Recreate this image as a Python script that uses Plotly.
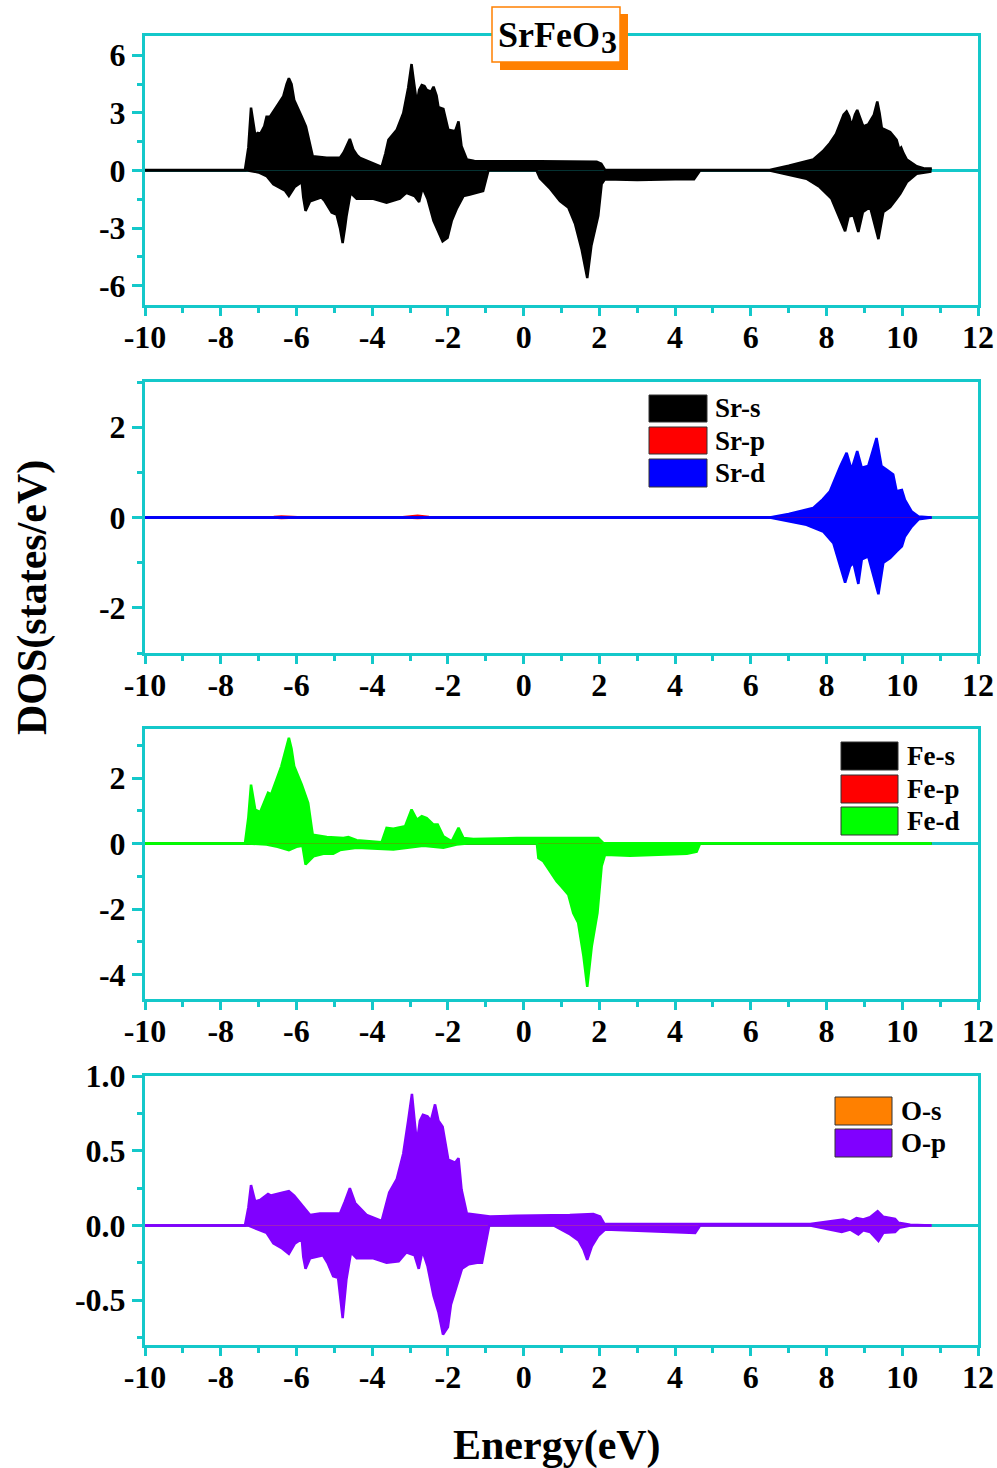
import plotly.graph_objects as go

# ---------------- data: energies (eV) and DOS (states/eV) ----------------
# Total DOS, spin up / spin down
TOT_UP_E = [-10, -7.36, -7.27, -7.2, -7.09, -7.02, -6.96, -6.85, -6.79, -6.70, -6.5, -6.35, -6.26, -6.20, -6.13,
            -6.06, -5.86, -5.75, -5.69, -5.60, -5.57, -5.2, -4.85, -4.75, -4.67, -4.59, -4.5, -4.4, -4.32, -4.0,
            -3.75, -3.65, -3.57, -3.35, -3.18, -3.05, -2.96, -2.89, -2.82, -2.76, -2.69, -2.62, -2.56, -2.45,
            -2.38, -2.30, -2.25, -2.12, -1.99, -1.81, -1.72, -1.64, -1.5, -1.3, -0.89, 0.43, 1.0, 1.93, 2.05,
            2.15, 4.66, 6.5, 7.0, 7.65, 7.9, 8.09, 8.25, 8.36, 8.45, 8.53, 8.6, 8.66, 8.75, 8.81, 8.9, 8.97,
            9.1, 9.25, 9.34, 9.4, 9.46, 9.68, 9.85, 9.92, 9.97, 10.03, 10.12, 10.38, 10.6, 10.78]
TOT_UP = [0.03, 0.03, 1.2, 3.27, 1.86, 1.95, 1.9, 2.3, 2.8, 2.8, 3.4, 3.85, 4.5, 4.8, 4.5,
          3.67, 2.8, 2.3, 1.78, 0.9, 0.74, 0.66, 0.66, 0.95, 1.26, 1.64, 1.1, 0.8, 0.66, 0.4,
          0.19, 0.9, 1.6, 2.12, 2.98, 4.3, 5.54, 4.5, 3.5, 4.2, 4.45, 4.4, 4.2, 4.1,
          4.36, 3.9, 3.3, 3.2, 2.12, 2.04, 2.55, 1.26, 0.57, 0.5, 0.48, 0.48, 0.46, 0.45, 0.35,
          0.03, 0.03, 0.03, 0.25, 0.57, 1.0, 1.43, 1.9, 2.47, 2.9, 3.07, 2.8, 2.3, 2.9, 3.15, 2.7, 2.3,
          2.4, 2.9, 3.59, 3.0, 2.2, 2.0, 1.6, 1.1, 1.2, 0.9, 0.57, 0.22, 0.1, 0.1]

TOT_DN_E = [-10, -7.28, -7.0, -6.79, -6.61, -6.44, -6.3, -6.2, -6.04, -5.86, -5.82, -5.76, -5.64, -5.34, -5.25,
            -5.07, -4.94, -4.85, -4.78, -4.72, -4.68, -4.57, -4.41, -3.97, -3.62, -3.27, -3.1, -2.88, -2.76,
            -2.67, -2.54, -2.38, -2.25, -2.14, -2.01, -1.9, -1.77, -1.59, -1.42, -1.2, -1.07, -0.93, 0.34,
            0.43, 0.7, 0.96, 1.18, 1.36, 1.53, 1.68, 1.79, 1.97, 2.06, 2.15, 3.0, 4.0, 4.5, 4.66, 6.5, 7.47,
            7.82, 8.13, 8.31, 8.49, 8.58, 8.71, 8.84, 8.96, 9.15, 9.37, 9.5, 9.68, 9.85, 9.95, 10.12, 10.38, 10.77]
TOT_DN = [0, 0, -0.1, -0.29, -0.72, -0.9, -1.05, -1.33, -0.84, -0.6, -1.4, -2.1, -1.6, -1.4, -1.6,
          -2.19, -2.3, -3.0, -3.78, -3.0, -2.4, -1.16, -1.47, -1.47, -1.67, -1.47, -1.16, -1.33, -1.64,
          -0.9, -1.47, -2.62, -3.2, -3.69, -3.5, -2.62, -2.0, -1.33, -1.25, -1.16, -1.07, 0, 0,
          -0.4, -0.95, -1.59, -1.93, -2.79, -4.09, -5.6, -3.9, -2.36, -0.7, -0.45, -0.5, -0.45, -0.45, 0, 0, -0.43,
          -0.86, -1.47, -2.33, -3.16, -2.4, -2.33, -3.2, -2.16, -1.9, -3.57, -2.16, -1.9, -1.47, -1.2, -0.6, -0.17, -0.05]

# Sr partial DOS
SR_S_E = [-10, 10.77]
SR_S_UP = [0, 0]
SR_S_DN = [0, 0]
SR_P_E = [-10, -7.3, -6.6, -6.4, -6.1, -5.6, -3.4, -3.0, -2.8, -2.5, -2.0, 10.77]
SR_P_UP = [0, 0, 0.02, 0.035, 0.02, 0, 0, 0.04, 0.05, 0.02, 0, 0]
SR_P_DN = [0, 0, -0.01, -0.02, -0.01, 0, 0, -0.02, -0.02, -0.01, 0, 0]
SR_D_UP_E = [-10, 6.5, 7.0, 7.65, 7.9, 8.09, 8.36, 8.53, 8.66, 8.81, 8.93, 9.1, 9.32, 9.45, 9.58, 9.76,
             9.85, 9.99, 10.07, 10.25, 10.43, 10.77]
SR_D_UP = [0, 0, 0.08, 0.21, 0.4, 0.58, 1.13, 1.43, 1.06, 1.47, 1.1, 1.14, 1.76, 1.14, 1.06, 0.95,
           0.58, 0.61, 0.39, 0.13, 0.02, 0]
SR_D_DN_E = [-10, 6.5, 7.47, 7.91, 8.18, 8.31, 8.49, 8.62, 8.71, 8.84, 8.93, 9.1, 9.37, 9.5, 9.68, 9.85,
             9.99, 10.07, 10.25, 10.43, 10.77]
SR_D_DN = [0, 0, -0.16, -0.31, -0.57, -0.93, -1.44, -1.08, -1.0, -1.47, -0.93, -0.86, -1.7, -1.0, -0.9, -0.75,
           -0.64, -0.42, -0.2, -0.04, 0]

# Fe partial DOS
FE_S_E = [-10, 10.77]
FE_S_UP = [0, 0]
FE_S_DN = [0, 0]
FE_P_E = [-10, 10.77]
FE_P_UP = [0, 0]
FE_P_DN = [0, 0]
FE_D_UP_E = [-10, -7.36, -7.27, -7.2, -7.09, -6.96, -6.75, -6.67, -6.4, -6.26, -6.2, -6.13, -6.06, -5.86,
             -5.69, -5.6, -5.57, -5.2, -4.76, -4.63, -4.41, -3.75, -3.62, -3.44, -3.13, -2.96, -2.82, -2.69,
             -2.56, -2.38, -2.27, -2.12, -1.9, -1.72, -1.59, -1.33, -0.18, 1.97, 2.1, 10.77]
FE_D_UP = [0, 0, 0.8, 1.8, 1.04, 0.96, 1.55, 1.5, 2.36, 3.0, 3.23, 2.9, 2.36, 1.8,
           1.24, 0.5, 0.27, 0.2, 0.17, 0.2, 0.1, 0.04, 0.48, 0.45, 0.53, 1.04, 0.73, 0.84,
           0.78, 0.58, 0.58, 0.22, 0.07, 0.48, 0.17, 0.14, 0.17, 0.17, 0.02, 0]
FE_D_DN_E = [-10, -7.28, -6.79, -6.5, -6.2, -6.0, -5.84, -5.76, -5.55, -5.29, -5.03, -4.85, -4.41, -3.44,
             -2.65, -2.12, -1.77, -1.5, 0.35, 0.39, 0.52, 0.7, 0.87, 1.0, 1.18, 1.31, 1.44, 1.58, 1.68, 1.8,
             1.95, 2.06, 2.15, 2.81, 3.43, 4.31, 4.57, 4.66, 10.77]
FE_D_DN = [0, 0, -0.03, -0.1, -0.2, -0.1, -0.07, -0.64, -0.39, -0.31, -0.31, -0.2, -0.13, -0.18,
           -0.07, -0.13, -0.03, 0, 0, -0.44, -0.54, -0.85, -1.15, -1.32, -1.56, -2.12, -2.42, -3.44, -4.38, -3.13,
           -2.12, -0.69, -0.34, -0.37, -0.34, -0.31, -0.25, 0, 0]

# O partial DOS
O_S_E = [-10, 10.77]
O_S_UP = [0, 0]
O_S_DN = [0, 0]
O_P_UP_E = [-10, -7.36, -7.27, -7.2, -7.09, -6.96, -6.75, -6.67, -6.35, -6.2, -6.06, -5.86, -5.64, -5.38,
            -4.85, -4.72, -4.59, -4.45, -4.15, -3.75, -3.55, -3.35, -3.18, -3.05, -2.95, -2.88, -2.82, -2.74,
            -2.66, -2.54, -2.45, -2.34, -2.25, -2.14, -1.99, -1.81, -1.72, -1.64, -1.5, -0.89, -0.19, 1.22,
            1.84, 2.02, 2.13, 7.57, 8.09, 8.44, 8.62, 8.79, 8.97, 9.15, 9.35, 9.5, 9.81, 9.9, 10.21, 10.77]
O_P_UP = [0, 0, 0.12, 0.27, 0.16, 0.17, 0.21, 0.2, 0.22, 0.23, 0.2, 0.14, 0.07, 0.08,
          0.08, 0.16, 0.25, 0.15, 0.07, 0.03, 0.22, 0.31, 0.48, 0.7, 0.88, 0.7, 0.55, 0.7,
          0.74, 0.73, 0.7, 0.81, 0.7, 0.66, 0.44, 0.42, 0.45, 0.24, 0.08, 0.06, 0.065, 0.07,
          0.077, 0.06, 0.01, 0.01, 0.03, 0.04, 0.025, 0.05, 0.04, 0.055, 0.095, 0.058, 0.044, 0.018, 0.004, 0]
O_P_DN_E = [-10, -7.28, -6.79, -6.61, -6.4, -6.2, -6.04, -5.86, -5.82, -5.76, -5.64, -5.3, -5.18, -5.03,
            -4.9, -4.78, -4.68, -4.56, -4.41, -3.97, -3.62, -3.3, -3.1, -2.88, -2.77, -2.67, -2.54, -2.38,
            -2.25, -2.13, -2.0, -1.92, -1.75, -1.63, -1.45, -1.23, -1.1, -0.91, 0.79, 1.23, 1.45, 1.58, 1.68,
            1.8, 1.97, 2.15, 4.53, 4.66, 7.57, 8.09, 8.4, 8.62, 8.84, 8.97, 9.15, 9.37, 9.5, 9.81, 9.92,
            10.21, 10.77]
O_P_DN = [0, 0, -0.05, -0.12, -0.15, -0.19, -0.12, -0.09, -0.21, -0.29, -0.22, -0.2, -0.25, -0.34,
          -0.35, -0.62, -0.36, -0.18, -0.22, -0.22, -0.25, -0.24, -0.18, -0.2, -0.29, -0.17, -0.27, -0.47,
          -0.58, -0.73, -0.68, -0.53, -0.39, -0.29, -0.26, -0.25, -0.25, 0, 0, -0.06, -0.1, -0.16, -0.23,
          -0.14, -0.07, -0.027, -0.05, 0, 0, -0.027, -0.044, -0.027, -0.06, -0.033, -0.044, -0.104, -0.049, -0.044,
          -0.016, 0, 0]

# Axis ticks
X_TICKS = [-10, -8, -6, -4, -2, 0, 2, 4, 6, 8, 10, 12]
X_TICK_TEXT = ["-10", "-8", "-6", "-4", "-2", "0", "2", "4", "6", "8", "10", "12"]
Y1_TICKS = [-6, -3, 0, 3, 6]
Y1_TICK_TEXT = ["-6", "-3", "0", "3", "6"]
Y2_TICKS = [-2, 0, 2]
Y2_TICK_TEXT = ["-2", "0", "2"]
Y3_TICKS = [-4, -2, 0, 2]
Y3_TICK_TEXT = ["-4", "-2", "0", "2"]
Y4_TICKS = [-0.5, 0.0, 0.5, 1.0]
Y4_TICK_TEXT = ["-0.5", "0.0", "0.5", "1.0"]

# ---------------- styling ----------------
W, H = 997, 1468
AXC = "#14C8CA"
FONT = "Liberation Serif"
BLACK, RED, BLUE, GREEN, ORANGE, VIOLET = "#000000", "#FF0000", "#0000FF", "#00FF00", "#FF8000", "#8000FF"


def fx(px):
    return px / W


def fy(py):
    return 1 - py / H


fig = go.Figure()


def add_spin(up_e, up, dn_e, dn, color, idx, width=1.5):
    ax = "" if idx == 1 else str(idx)
    for e, v in ((dn_e, dn), (up_e, up)):
        fig.add_trace(go.Scatter(x=e, y=v, mode="lines", fill="tozeroy", fillcolor=color,
                                 line=dict(color=color, width=width),
                                 xaxis="x" + ax, yaxis="y" + ax, showlegend=False, hoverinfo="skip"))


# panel 1: total
add_spin(TOT_UP_E, TOT_UP, TOT_DN_E, TOT_DN, BLACK, 1, 2.5)
# panel 2: Sr
add_spin(SR_S_E, SR_S_UP, SR_S_E, SR_S_DN, BLACK, 2)
add_spin(SR_P_E, SR_P_UP, SR_P_E, SR_P_DN, RED, 2)
add_spin(SR_D_UP_E, SR_D_UP, SR_D_DN_E, SR_D_DN, BLUE, 2, 2.5)
# panel 3: Fe
add_spin(FE_S_E, FE_S_UP, FE_S_E, FE_S_DN, BLACK, 3)
add_spin(FE_P_E, FE_P_UP, FE_P_E, FE_P_DN, RED, 3)
add_spin(FE_D_UP_E, FE_D_UP, FE_D_DN_E, FE_D_DN, GREEN, 3, 2.5)
# panel 4: O
add_spin(O_S_E, O_S_UP, O_S_E, O_S_DN, ORANGE, 4)
add_spin(O_P_UP_E, O_P_UP, O_P_DN_E, O_P_DN, VIOLET, 4, 2.5)

# panel frames in pixels: (top, bottom)
PANELS = [(36, 305), (382, 653), (729, 999), (1076, 1345)]
Y_RANGES = [(-7, 7), (-3, 3), (-4.75, 3.5), (-0.8, 1.0)]
Y_TICKS = [(Y1_TICKS, Y1_TICK_TEXT, 1.5), (Y2_TICKS, Y2_TICK_TEXT, 1),
           (Y3_TICKS, Y3_TICK_TEXT, 1), (Y4_TICKS, Y4_TICK_TEXT, 0.25)]

tick_font = dict(family=FONT, size=32, color="black", weight="bold")
layout = {}
for i, ((top, bot), yr, (tv, tt, minor_step)) in enumerate(zip(PANELS, Y_RANGES, Y_TICKS), start=1):
    sfx = "" if i == 1 else str(i)
    layout["xaxis" + sfx] = dict(
        domain=[fx(145), fx(978)], anchor="y" + sfx, range=[-10, 12], automargin=False,
        tickmode="array", tickvals=X_TICKS, ticktext=X_TICK_TEXT,
        ticks="outside", ticklen=8, tickwidth=3, tickcolor=AXC, ticklabelstandoff=-6,
        minor=dict(tickmode="linear", tick0=-10, dtick=1, ticks="outside", ticklen=5, tickwidth=3, tickcolor=AXC),
        showline=True, linecolor=AXC, linewidth=3, mirror=True,
        showgrid=False, zeroline=False, tickfont=tick_font,
    )
    layout["yaxis" + sfx] = dict(
        domain=[fy(bot), fy(top)], anchor="x" + sfx, range=list(yr), automargin=False,
        tickmode="array", tickvals=tv, ticktext=tt,
        ticks="outside", ticklen=10, tickwidth=3, tickcolor=AXC,
        minor=dict(tickmode="linear", tick0=0, dtick=minor_step, ticks="outside", ticklen=5, tickwidth=3,
                   tickcolor=AXC),
        showline=True, linecolor=AXC, linewidth=3, mirror=True,
        showgrid=False, zeroline=True, zerolinecolor=AXC, zerolinewidth=3, tickfont=tick_font,
    )

shapes = []
annotations = []

# title box with offset shadow
shapes.append(dict(type="rect", xref="paper", yref="paper", x0=fx(500), x1=fx(628), y0=fy(70), y1=fy(14),
                   fillcolor=ORANGE, line=dict(width=0), layer="above"))
shapes.append(dict(type="rect", xref="paper", yref="paper", x0=fx(492), x1=fx(620), y0=fy(62), y1=fy(7),
                   fillcolor="white", line=dict(color=ORANGE, width=1.5), layer="above"))
annotations.append(dict(text="SrFeO", x=fx(496), y=fy(35), xref="paper", yref="paper",
                        showarrow=False, xanchor="left", yanchor="middle",
                        font=dict(family=FONT, size=36, color="black", weight="bold")))
annotations.append(dict(text="3", x=fx(599), y=fy(42), xref="paper", yref="paper",
                        showarrow=False, xanchor="left", yanchor="middle",
                        font=dict(family=FONT, size=32, color="black", weight="bold")))

# legend boxes: (left, right, [(top, bottom, color, label), ...], text x)
LEGENDS = [
    (649, 707, [(395, 422, BLACK, "Sr-s"), (427, 454, RED, "Sr-p"), (459, 487, BLUE, "Sr-d")], 713),
    (841, 898, [(742, 770, BLACK, "Fe-s"), (775, 803, RED, "Fe-p"), (807, 835, GREEN, "Fe-d")], 905),
    (835, 892, [(1097, 1125, ORANGE, "O-s"), (1129, 1157, VIOLET, "O-p")], 899),
]
for x0, x1, items, tx in LEGENDS:
    for t, b, col, lab in items:
        shapes.append(dict(type="rect", xref="paper", yref="paper", x0=fx(x0), x1=fx(x1), y0=fy(b), y1=fy(t),
                           fillcolor=col, line=dict(color="#333333", width=1), layer="above"))
        annotations.append(dict(text=lab, x=fx(tx), y=fy((t + b) / 2), xref="paper", yref="paper",
                                showarrow=False, xanchor="left", yanchor="middle",
                                font=dict(family=FONT, size=27, color="black", weight="bold")))

# axis titles
annotations.append(dict(text="Energy(eV)", x=fx(557), y=fy(1445), xref="paper", yref="paper",
                        showarrow=False, xanchor="center", yanchor="middle",
                        font=dict(family=FONT, size=42, color="black", weight="bold")))
annotations.append(dict(text="DOS(states/eV)", x=fx(32), y=fy(598), xref="paper", yref="paper",
                        showarrow=False, xanchor="center", yanchor="middle", textangle=-90,
                        font=dict(family=FONT, size=42, color="black", weight="bold")))

fig.update_layout(
    width=W, height=H, margin=dict(l=0, r=0, t=0, b=0, autoexpand=False),
    paper_bgcolor="white", plot_bgcolor="white",
    shapes=shapes, annotations=annotations, showlegend=False,
    **layout,
)

fig.write_html("out.html")
